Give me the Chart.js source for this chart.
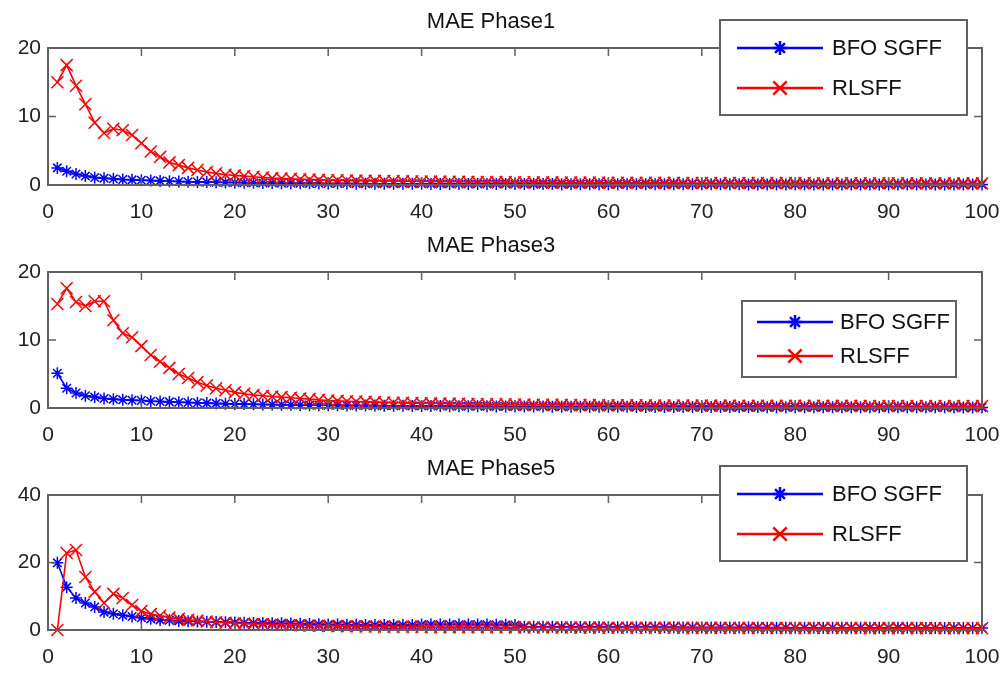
<!DOCTYPE html>
<html>
<head>
<meta charset="utf-8">
<script src="https://cdn.jsdelivr.net/npm/chart.js@4.4.1/dist/chart.umd.min.js"></script>
<style>
  body { margin: 0; background: #fff; }
  #wrap { position: relative; width: 1008px; height: 673px; overflow: hidden; }
  canvas { position: absolute; left: 0; }
</style>
</head>
<body>
<div id="wrap">
  <canvas id="c1" width="1008" height="230" style="top:0px"></canvas>
  <canvas id="c2" width="1008" height="230" style="top:224px"></canvas>
  <canvas id="c3" width="1008" height="230" style="top:447px"></canvas>
</div>
<script>
// iteration index 1..100
const iterations = Array.from({ length: 100 }, (_, i) => i + 1);

const seriesNames = ['BFO SGFF', 'RLSFF'];

const phase1Bfo = [2.5, 2.0, 1.6, 1.3, 1.1, 1.0, 0.9, 0.8, 0.75, 0.7,
  0.65, 0.6, 0.55, 0.5, 0.48, 0.45, 0.42, 0.4, 0.38, 0.36,
  0.34, 0.32, 0.3, 0.28, 0.27, 0.26, 0.25, 0.24, 0.23, 0.22,
  0.21, 0.21, 0.2, 0.2, 0.19, 0.19, 0.18, 0.18, 0.17, 0.17,
  0.16, 0.16, 0.16, 0.15, 0.15, 0.15, 0.14, 0.14, 0.14, 0.14,
  0.13, 0.13, 0.13, 0.13, 0.12, 0.12, 0.12, 0.12, 0.12, 0.11,
  0.11, 0.11, 0.11, 0.11, 0.11, 0.1, 0.1, 0.1, 0.1, 0.1,
  0.1, 0.1, 0.1, 0.1, 0.09, 0.09, 0.09, 0.09, 0.09, 0.09,
  0.09, 0.09, 0.09, 0.09, 0.09, 0.08, 0.08, 0.08, 0.08, 0.08,
  0.08, 0.08, 0.08, 0.08, 0.08, 0.08, 0.08, 0.08, 0.08, 0.08];
const phase1Rls = [15.0, 17.5, 14.5, 11.8, 9.1, 7.6, 8.2, 8.0, 7.3, 6.1,
  4.9, 4.1, 3.3, 2.9, 2.5, 2.2, 1.9, 1.7, 1.5, 1.4,
  1.3, 1.2, 1.1, 1.0, 0.95, 0.9, 0.85, 0.8, 0.75, 0.7,
  0.68, 0.66, 0.64, 0.62, 0.6, 0.58, 0.56, 0.55, 0.54, 0.52,
  0.5, 0.49, 0.48, 0.47, 0.46, 0.45, 0.44, 0.43, 0.42, 0.41,
  0.4, 0.39, 0.38, 0.38, 0.37, 0.36, 0.36, 0.35, 0.35, 0.34,
  0.34, 0.33, 0.33, 0.32, 0.32, 0.31, 0.31, 0.3, 0.3, 0.3,
  0.29, 0.29, 0.29, 0.28, 0.28, 0.28, 0.28, 0.27, 0.27, 0.27,
  0.27, 0.26, 0.26, 0.26, 0.26, 0.26, 0.25, 0.25, 0.25, 0.25,
  0.25, 0.25, 0.24, 0.24, 0.24, 0.24, 0.24, 0.24, 0.24, 0.24];

const phase3Bfo = [5.1, 2.9, 2.2, 1.8, 1.6, 1.4, 1.3, 1.2, 1.15, 1.1,
  1.0, 0.95, 0.9, 0.85, 0.8, 0.76, 0.72, 0.68, 0.64, 0.6,
  0.57, 0.54, 0.52, 0.5, 0.48, 0.46, 0.44, 0.42, 0.41, 0.4,
  0.39, 0.38, 0.37, 0.36, 0.35, 0.34, 0.33, 0.32, 0.31, 0.3,
  0.29, 0.28, 0.27, 0.26, 0.25, 0.25, 0.24, 0.23, 0.23, 0.22,
  0.22, 0.21, 0.21, 0.2, 0.2, 0.19, 0.19, 0.18, 0.18, 0.17,
  0.17, 0.17, 0.16, 0.16, 0.16, 0.15, 0.15, 0.15, 0.14, 0.14,
  0.14, 0.14, 0.13, 0.13, 0.13, 0.13, 0.12, 0.12, 0.12, 0.12,
  0.12, 0.11, 0.11, 0.11, 0.11, 0.11, 0.11, 0.1, 0.1, 0.1,
  0.1, 0.1, 0.1, 0.1, 0.1, 0.1, 0.09, 0.09, 0.09, 0.09];
const phase3Rls = [15.3, 17.6, 15.6, 15.0, 15.7, 15.7, 12.9, 11.0, 10.4, 9.1,
  7.8, 6.8, 5.9, 5.0, 4.4, 3.8, 3.3, 2.9, 2.6, 2.3,
  2.1, 1.9, 1.8, 1.7, 1.6, 1.5, 1.4, 1.3, 1.2, 1.1,
  1.05, 1.0, 0.95, 0.9, 0.86, 0.82, 0.78, 0.75, 0.72, 0.7,
  0.68, 0.66, 0.64, 0.62, 0.6, 0.58, 0.56, 0.55, 0.54, 0.52,
  0.5, 0.49, 0.48, 0.47, 0.46, 0.45, 0.44, 0.43, 0.42, 0.41,
  0.4, 0.4, 0.39, 0.39, 0.38, 0.38, 0.37, 0.37, 0.36, 0.36,
  0.35, 0.35, 0.35, 0.34, 0.34, 0.34, 0.33, 0.33, 0.33, 0.32,
  0.32, 0.32, 0.32, 0.31, 0.31, 0.31, 0.31, 0.3, 0.3, 0.3,
  0.3, 0.3, 0.29, 0.29, 0.29, 0.29, 0.29, 0.28, 0.28, 0.28];

const phase5Bfo = [19.9, 12.7, 9.5, 8.0, 6.8, 5.3, 4.8, 4.4, 4.0, 3.6,
  3.3, 3.0, 2.9, 2.7, 2.6, 2.5, 2.45, 2.4, 2.3, 2.2,
  2.15, 2.1, 2.05, 2.0, 2.0, 1.9, 1.85, 1.8, 1.7, 1.6,
  1.6, 1.55, 1.55, 1.5, 1.5, 1.5, 1.5, 1.5, 1.5, 1.6,
  1.6, 1.6, 1.65, 1.6, 1.6, 1.6, 1.6, 1.55, 1.55, 1.5,
  1.0, 0.98, 0.96, 0.94, 0.92, 0.9, 0.88, 0.87, 0.86, 0.85,
  0.84, 0.83, 0.82, 0.81, 0.8, 0.79, 0.78, 0.77, 0.76, 0.75,
  0.75, 0.74, 0.73, 0.72, 0.72, 0.71, 0.7, 0.7, 0.69, 0.68,
  0.68, 0.67, 0.67, 0.66, 0.66, 0.65, 0.65, 0.64, 0.64, 0.63,
  0.63, 0.63, 0.62, 0.62, 0.62, 0.61, 0.61, 0.61, 0.6, 0.6];
const phase5Rls = [0, 22.8, 23.7, 15.7, 11.3, 8.0, 10.7, 9.5, 7.4, 5.6,
  4.7, 4.2, 3.7, 3.3, 3.0, 2.8, 2.5, 2.3, 2.15, 2.0,
  1.9, 1.8, 1.7, 1.6, 1.5, 1.45, 1.4, 1.3, 1.25, 1.2,
  1.15, 1.1, 1.08, 1.05, 1.02, 1.0, 0.98, 0.96, 0.94, 0.92,
  0.9, 0.88, 0.86, 0.85, 0.84, 0.82, 0.81, 0.8, 0.79, 0.78,
  0.77, 0.76, 0.75, 0.74, 0.73, 0.72, 0.71, 0.7, 0.7, 0.69,
  0.68, 0.68, 0.67, 0.66, 0.66, 0.65, 0.65, 0.64, 0.64, 0.63,
  0.63, 0.62, 0.62, 0.61, 0.61, 0.6, 0.6, 0.6, 0.59, 0.59,
  0.59, 0.58, 0.58, 0.58, 0.57, 0.57, 0.57, 0.56, 0.56, 0.56,
  0.56, 0.55, 0.55, 0.55, 0.55, 0.54, 0.54, 0.54, 0.54, 0.54];

const FONT = "'Liberation Sans', Arial, Helvetica, sans-serif";
const AXIS_GRAY = '#606060';

// matlab-ish box with inward ticks and an opaque legend
const matlabBox = {
  id: 'matlabBox',
  afterDraw(chart, args, opts) {
    const { ctx, chartArea: a, scales } = chart;
    ctx.save();
    ctx.strokeStyle = AXIS_GRAY;
    ctx.lineWidth = 2;
    ctx.strokeRect(a.left, a.top, a.right - a.left, a.bottom - a.top);

    ctx.lineWidth = 1.5;
    ctx.beginPath();
    scales.x.ticks.forEach(t => {
      const px = scales.x.getPixelForValue(t.value);
      if (px <= a.left + 1 || px >= a.right - 1) return;
      ctx.moveTo(px, a.bottom); ctx.lineTo(px, a.bottom - 8);
      ctx.moveTo(px, a.top); ctx.lineTo(px, a.top + 8);
    });
    scales.y.ticks.forEach(t => {
      const py = scales.y.getPixelForValue(t.value);
      if (py <= a.top + 1 || py >= a.bottom - 1) return;
      ctx.moveTo(a.left, py); ctx.lineTo(a.left + 8, py);
      ctx.moveTo(a.right, py); ctx.lineTo(a.right - 8, py);
    });
    ctx.stroke();

    // legend
    const L = opts.legend;
    ctx.fillStyle = '#fff';
    ctx.fillRect(L.left, L.top, L.width, L.height);
    ctx.lineWidth = 2;
    ctx.strokeStyle = AXIS_GRAY;
    ctx.strokeRect(L.left, L.top, L.width, L.height);
    ctx.font = '22px ' + FONT;
    ctx.textBaseline = 'middle';
    chart.data.datasets.forEach((ds, i) => {
      const y = L.top + L.rows[i];
      const x1 = L.left + L.line[0], x2 = L.left + L.line[1];
      ctx.strokeStyle = ds.borderColor;
      ctx.lineWidth = 2.5;
      ctx.beginPath();
      ctx.moveTo(x1, y); ctx.lineTo(x2, y);
      ctx.stroke();
      ctx.fillStyle = ds.borderColor;
      Chart.helpers.drawPoint(ctx, {
        pointStyle: ds.pointStyle, radius: ds.pointRadius + 1,
        borderWidth: 2, rotation: 0
      }, (x1 + x2) / 2, y);
      ctx.fillStyle = '#111';
      ctx.fillText(ds.label, L.left + L.textX, y + 1);
    });
    ctx.restore();
  }
};

function makeChart(id, title, bfo, rls, yMax, yStep, legend, xAxisHeight) {
  return new Chart(document.getElementById(id), {
    type: 'line',
    data: {
      datasets: [{
        label: seriesNames[0],
        data: iterations.map((x, i) => ({ x: x, y: bfo[i] })),
        borderColor: '#0000ff',
        backgroundColor: '#0000ff',
        borderWidth: 1.6,
        pointStyle: 'star',
        pointRadius: 6,
        pointBorderWidth: 1.5,
        tension: 0,
        clip: false,
        order: 1
      }, {
        label: seriesNames[1],
        data: iterations.map((x, i) => ({ x: x, y: rls[i] })),
        borderColor: '#ff0000',
        backgroundColor: '#ff0000',
        borderWidth: 1.6,
        pointStyle: 'crossRot',
        pointRadius: 8.5,
        pointBorderWidth: 1.5,
        tension: 0,
        clip: false,
        order: 0
      }]
    },
    options: {
      responsive: false,
      animation: false,
      events: [],
      layout: { padding: { left: 0, right: 26, top: 0, bottom: 0 } },
      plugins: {
        legend: { display: false },
        tooltip: { enabled: false },
        title: {
          display: true,
          text: title,
          color: '#111',
          font: { family: FONT, size: 22, weight: 'normal' },
          padding: { top: 9, bottom: 12.6 }
        },
        matlabBox: { legend: legend }
      },
      scales: {
        x: {
          type: 'linear',
          min: 0, max: 100,
          grid: { display: false, drawTicks: false },
          border: { display: false },
          ticks: { stepSize: 10, padding: 15, color: '#222', font: { family: FONT, size: 21 } },
          afterFit: s => { s.height = xAxisHeight; s.paddingRight = 0; s.paddingLeft = 0; }
        },
        y: {
          min: 0, max: yMax,
          grid: { display: false, drawTicks: false },
          border: { display: false },
          ticks: { stepSize: yStep, padding: 7, color: '#222', font: { family: FONT, size: 21 } },
          afterFit: s => { s.width = 48; }
        }
      }
    },
    plugins: [matlabBox]
  });
}

makeChart('c1', 'MAE Phase1', phase1Bfo, phase1Rls, 20, 10,
  { left: 720, top: 20, width: 247, height: 95, rows: [28, 68], line: [17, 103], textX: 112 }, 45);
makeChart('c2', 'MAE Phase3', phase3Bfo, phase3Rls, 20, 10,
  { left: 742, top: 77, width: 214, height: 76, rows: [21, 55], line: [15, 91], textX: 98 }, 46);
makeChart('c3', 'MAE Phase5', phase5Bfo, phase5Rls, 40, 20,
  { left: 720, top: 19, width: 247, height: 95, rows: [28, 68], line: [17, 103], textX: 112 }, 47);
</script>
</body>
</html>
